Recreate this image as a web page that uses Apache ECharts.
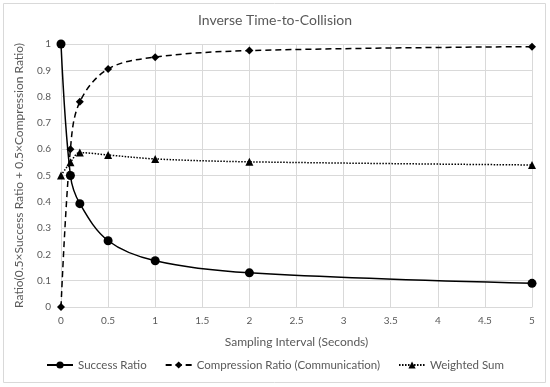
<!DOCTYPE html>
<html><head><meta charset="utf-8">
<script src="https://cdn.jsdelivr.net/npm/echarts@6/dist/echarts.min.js"></script>
<style>html,body{margin:0;padding:0;background:#fff}#c{width:550px;height:387px}</style>
</head><body><div id="c"></div>
<script>
var xValues = [0, 0.1, 0.2, 0.5, 1, 2, 5];
var successRatio = [1, 0.5, 0.393, 0.252, 0.176, 0.13, 0.09];
var compressionRatio = [0, 0.6, 0.78, 0.905, 0.95, 0.975, 0.99];
var weightedSum = [0.5, 0.55, 0.587, 0.578, 0.563, 0.552, 0.54];
var seriesNames = ['Success Ratio', 'Compression Ratio (Communication)', 'Weighted Sum'];

function pairs(ys){ return xValues.map(function(x,i){ return [x, ys[i]]; }); }
var font = 'Lato';
var chart = echarts.init(document.getElementById('c'));
chart.setOption({
  animation: false,
  textStyle: {fontFamily: font},
  graphic: [{type:'rect', shape:{x:3.5,y:3.5,width:542,height:379}, style:{fill:'none', stroke:'#d9d9d9', lineWidth:1}, silent:true}],
  title: {text:'Inverse Time-to-Collision', left:'center', top:8, textStyle:{fontFamily:font, fontSize:14, fontWeight:'normal', color:'#595959'}},
  legend: {bottom:11, left:'center', itemGap:18, itemWidth:26, itemHeight:9, textStyle:{fontFamily:font, fontSize:11.5, color:'#595959'}, data: seriesNames},
  grid: {left:61, right:18, top:44, bottom:80},
  xAxis: {type:'value', min:0, max:5, interval:0.5, name:'Sampling Interval (Seconds)', nameLocation:'middle', nameGap:29,
    nameTextStyle:{fontSize:12, color:'#595959'},
    axisLine:{lineStyle:{color:'#d9d9d9'}}, axisTick:{show:false},
    axisLabel:{color:'#595959', fontSize:10, margin:9},
    splitLine:{lineStyle:{color:'#d9d9d9'}}},
  yAxis: {type:'value', min:0, max:1, interval:0.1, name:'Ratio(0.5\u00d7Success Ratio + 0.5\u00d7Compression Ratio)', nameLocation:'middle', nameGap:36,
    nameTextStyle:{fontSize:12, color:'#595959'},
    axisLine:{show:false}, axisTick:{show:false},
    axisLabel:{color:'#595959', fontSize:10, margin:10, formatter:function(v){return String(Math.round(v*10)/10);}},
    splitLine:{lineStyle:{color:'#d9d9d9'}}},
  series: [
    {name:seriesNames[0], type:'line', data:pairs(successRatio), smooth:0.35, symbol:'circle', symbolSize:9,
      lineStyle:{color:'#000', width:1.5, type:'solid'}, itemStyle:{color:'#000'}},
    {name:seriesNames[1], type:'line', data:pairs(compressionRatio), smooth:0.35, symbol:'diamond', symbolSize:8,
      lineStyle:{color:'#000', width:1.5, type:[6,4]}, itemStyle:{color:'#000'}},
    {name:seriesNames[2], type:'line', data:pairs(weightedSum), smooth:0.35, symbol:'triangle', symbolSize:8,
      lineStyle:{color:'#000', width:1.5, type:[1.5,1.5]}, itemStyle:{color:'#000'}}
  ]
});
</script></body></html>
